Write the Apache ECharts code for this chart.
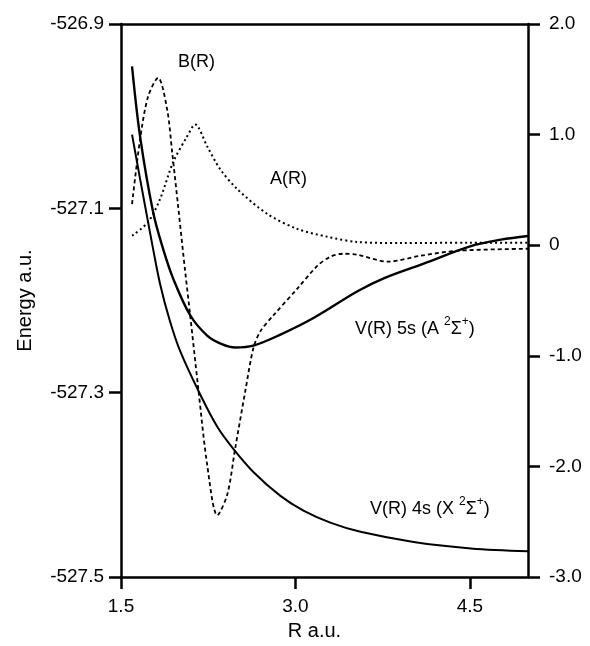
<!DOCTYPE html>
<html>
<head>
<meta charset="utf-8">
<script src="https://cdn.jsdelivr.net/npm/echarts@6/dist/echarts.min.js"></script>
<style>
  html, body { margin: 0; padding: 0; background: #fff; }
  #chart { width: 590px; height: 646px; }
</style>
</head>
<body>
<div id="chart"></div>
<script>
// Internuclear distance R (a.u.) and potential energies V(R) (a.u., left axis)
const r5s = [1.595, 1.664, 1.776, 1.862, 1.948, 2.095, 2.241, 2.362, 2.483, 2.638, 2.871, 3.155, 3.534, 3.759, 4.103, 4.509, 4.767, 5.0];
const v5s = [-526.946, -527.022, -527.104, -527.144, -527.176, -527.216, -527.238, -527.247, -527.251, -527.249, -527.237, -527.219, -527.190, -527.176, -527.160, -527.141, -527.134, -527.130];

const r4s = [1.595, 1.664, 1.733, 1.767, 1.836, 1.920, 2.009, 2.181, 2.328, 2.466, 2.638, 2.871, 3.069, 3.300, 3.560, 4.017, 4.509, 5.0];
const v4s = [-527.020, -527.068, -527.115, -527.138, -527.182, -527.222, -527.255, -527.302, -527.337, -527.361, -527.386, -527.412, -527.428, -527.441, -527.451, -527.462, -527.469, -527.472];

// Coupling functions B(R) and A(R) (right axis)
const rB = [1.595, 1.664, 1.733, 1.819, 1.897, 1.940, 1.991, 2.052, 2.095, 2.164, 2.241, 2.328, 2.414, 2.483, 2.569, 2.638, 2.698, 2.810, 3.017, 3.190, 3.302, 3.414, 3.534, 3.793, 4.078, 4.397, 5.0];
const bVals = [0.372, 0.957, 1.344, 1.514, 1.227, 0.840, 0.354, -0.239, -0.635, -1.291, -1.984, -2.442, -2.254, -1.831, -1.318, -0.932, -0.779, -0.635, -0.392, -0.185, -0.104, -0.077, -0.086, -0.149, -0.095, -0.050, -0.032];

const rA = [1.595, 1.733, 1.836, 1.948, 2.069, 2.138, 2.241, 2.353, 2.500, 2.759, 3.017, 3.276, 3.534, 3.905, 4.5, 5.0];
const aVals = [0.085, 0.210, 0.417, 0.750, 0.984, 1.092, 0.894, 0.687, 0.507, 0.282, 0.147, 0.076, 0.029, 0.020, 0.022, 0.022];

// Tick values
const xTicks = [1.5, 3.0, 4.5];
const energyTicks = [-527.5, -527.3, -527.1, -526.9];
const couplingTicks = [-3, -2, -1, 0, 1, 2];

const FONT = '"Liberation Sans", Arial, Helvetica, sans-serif';
const pairs = (xs, ys) => xs.map((x, i) => [x, ys[i]]);

const axisLine = { show: true, onZero: false, lineStyle: { color: '#000', width: 2.5 } };
const axisTick = { show: true, inside: false, length: 12, lineStyle: { color: '#000', width: 2.5 } };
const labelStyle = { color: '#000', fontFamily: FONT, fontSize: 19 };

const chart = echarts.init(document.getElementById('chart'), null, { renderer: 'canvas' });

const option = {
  backgroundColor: '#fff',
  animation: false,
  grid: { left: 121, right: 62, top: 24, bottom: 66 },
  xAxis: [
    {
      type: 'value', position: 'bottom', min: 1.5, max: 5.0,
      axisLine, splitLine: { show: false },
      axisTick: Object.assign({}, axisTick, { customValues: xTicks }),
      axisLabel: Object.assign({}, labelStyle, { customValues: xTicks, margin: 20, formatter: v => v.toFixed(1) }),
      name: 'R a.u.', nameLocation: 'middle', nameGap: 44,
      nameTextStyle: { color: '#000', fontFamily: FONT, fontSize: 20, padding: [0, 20, 0, 0] }
    },
    {
      type: 'value', position: 'top', min: 1.5, max: 5.0,
      axisLine, axisTick: { show: false }, axisLabel: { show: false }, splitLine: { show: false }
    }
  ],
  yAxis: [
    {
      type: 'value', position: 'left', min: -527.5, max: -526.9,
      axisLine, splitLine: { show: false },
      axisTick: Object.assign({}, axisTick, { customValues: energyTicks }),
      axisLabel: Object.assign({}, labelStyle, { customValues: energyTicks, margin: 17, formatter: v => v.toFixed(1) }),
      name: 'Energy a.u.', nameLocation: 'middle', nameGap: 86, nameRotate: 90,
      nameTextStyle: { color: '#000', fontFamily: FONT, fontSize: 20 }
    },
    {
      type: 'value', position: 'right', min: -3, max: 2,
      axisLine, splitLine: { show: false },
      axisTick: Object.assign({}, axisTick, { customValues: couplingTicks }),
      axisLabel: Object.assign({}, labelStyle, { customValues: couplingTicks, margin: 21, formatter: v => (v === 0 ? '0' : v.toFixed(1)) })
    }
  ],
  series: [
    {
      name: 'V(R) 5s', type: 'line', xAxisIndex: 0, yAxisIndex: 0, data: pairs(r5s, v5s),
      smooth: 0.35, showSymbol: false, lineStyle: { color: '#000', width: 2.4 }
    },
    {
      name: 'V(R) 4s', type: 'line', xAxisIndex: 0, yAxisIndex: 0, data: pairs(r4s, v4s),
      smooth: 0.35, showSymbol: false, lineStyle: { color: '#000', width: 2.0 }
    },
    {
      name: 'B(R)', type: 'line', xAxisIndex: 0, yAxisIndex: 1, data: pairs(rB, bVals),
      smooth: 0.3, showSymbol: false, lineStyle: { color: '#000', width: 1.8, type: [4, 3] }
    },
    {
      name: 'A(R)', type: 'line', xAxisIndex: 0, yAxisIndex: 1, data: pairs(rA, aVals),
      smooth: 0.3, showSymbol: false, lineStyle: { color: '#000', width: 2.0, type: [2, 3] }
    }
  ],
  graphic: [
    { type: 'text', left: 178, top: 53, style: { text: 'B(R)', fill: '#000', font: '18px ' + FONT } },
    { type: 'text', left: 270, top: 170, style: { text: 'A(R)', fill: '#000', font: '18px ' + FONT } },
    {
      type: 'text', left: 355, top: 316,
      style: {
        text: '{n|V(R) 5s (A }{s|2}{n|Σ}{s|+}{n|)}', fill: '#000',
        rich: {
          n: { fontFamily: FONT, fontSize: 18, verticalAlign: 'bottom', lineHeight: 22 },
          s: { fontFamily: FONT, fontSize: 12, verticalAlign: 'top', lineHeight: 22 }
        }
      }
    },
    {
      type: 'text', left: 370, top: 496,
      style: {
        text: '{n|V(R) 4s (X }{s|2}{n|Σ}{s|+}{n|)}', fill: '#000',
        rich: {
          n: { fontFamily: FONT, fontSize: 18, verticalAlign: 'bottom', lineHeight: 22 },
          s: { fontFamily: FONT, fontSize: 12, verticalAlign: 'top', lineHeight: 22 }
        }
      }
    }
  ]
};

chart.setOption(option);
</script>
</body>
</html>
